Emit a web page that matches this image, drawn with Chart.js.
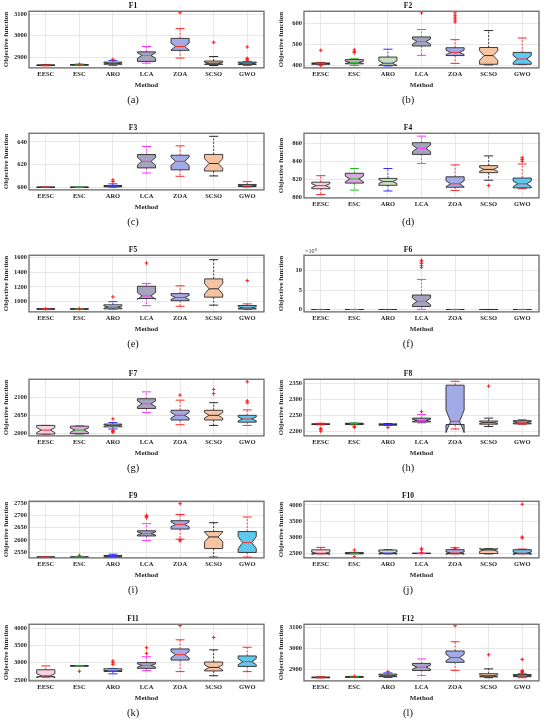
<!DOCTYPE html>
<html>
<head>
<meta charset="utf-8">
<script src="https://cdn.jsdelivr.net/npm/chart.js@4.4.1/dist/chart.umd.min.js"></script>
<style>
  html, body { margin: 0; padding: 0; background: #fff; }
  #wrap { position: relative; width: 550px; height: 722px; overflow: hidden; }
  .cell { position: absolute; width: 275px; height: 124px; }
</style>
</head>
<body>
<div id="wrap"></div>
<script>
const methods = ["EESC", "ESC", "ARO", "LCA", "ZOA", "SCSO", "GWO"];
const fillColors = ["#f3d2e4", "#d9a8da", "#c6e0b9", "#a4a4be", "#a2abe6", "#f6c4a2", "#5fc8ee"];
const lineColors = ["#ff2020", "#20c020", "#3030ff", "#ff30ff", "#ff2a2a", "#2a2a2a", "#ff2a2a"];

// each box: [lower whisker, q1, median, q3, upper whisker]
const f1Box = [[2860, 2861, 2862, 2864, 2866], [2862, 2863, 2864, 2866, 2868], [2862, 2867, 2871, 2877, 2885], [2872, 2880, 2908, 2925, 2950], [2896, 2932, 2950, 2988, 3034], [2861, 2866, 2872, 2882, 2903], [2861, 2866, 2870, 2877, 2880]];
const f1Out = [[], [2867], [2890], [], [3108], [2970], [2948, 2895, 2890, 2886]];
const f1Ticks = [2900, 3000, 3100];
const f1Range = [2850, 3115];

const f2Box = [[404, 406, 409, 412, 415], [400, 408, 415, 428, 432], [398, 401, 411, 440, 477], [448, 492, 513, 535, 570], [410, 447, 462, 484, 522], [403, 406, 447, 485, 565], [404, 406, 431, 462, 530]];
const f2Out = [[472, 400], [460, 466, 474], [], [648], [605, 615, 625, 635, 648], [], []];
const f2Ticks = [400, 500, 600];
const f2Range = [389, 656];

const f3Box = [[599.9, 600, 600, 600.1, 600.2], [599.9, 600, 600, 600.1, 600.2], [600.1, 600.4, 601, 601.5, 603], [612.6, 617.1, 622.9, 628.9, 636], [609.7, 615.4, 622.9, 628.3, 636.6], [610, 614.3, 621, 629, 645], [600.2, 600.6, 601.2, 602.5, 605]];
const f3Out = [[], [], [605, 606.5], [], [], [], []];
const f3Ticks = [600, 620, 640];
const f3Range = [597.7, 647.7];

const f4Box = [[803, 809.5, 813, 816.8, 824], [808, 815.8, 820.4, 826.7, 832], [807, 813.3, 817.5, 821, 832], [837.5, 847.7, 854.4, 860.7, 868], [807.5, 811.2, 815, 822.8, 836], [819, 827.4, 831, 835.2, 846], [809.5, 810.5, 815, 821.4, 837]];
const f4Out = [[], [], [], [], [], [813], [840, 842, 844]];
const f4Ticks = [800, 820, 840, 860];
const f4Range = [799.3, 871.2];

const f5Box = [[898, 899, 900, 902, 904], [898, 899, 900, 902, 904], [900, 902, 926, 957, 1000], [945, 1043, 1078, 1209, 1245], [937, 1013, 1057, 1109, 1215], [952, 1061, 1174, 1309, 1570], [895, 900, 917, 948, 970]];
const f5Out = [[905], [905], [1065], [1525], [], [], [1285]];
const f5Ticks = [1000, 1200, 1400, 1600];
const f5Range = [861, 1630];

// F6 values in units of 10^6
const f6Box = [[0, 0.002, 0.005, 0.01, 0.02], [0, 0.002, 0.005, 0.01, 0.02], [0, 0.002, 0.005, 0.01, 0.02], [0.05, 0.78, 2.1, 3.72, 7.7], [0, 0.002, 0.005, 0.01, 0.02], [0, 0.002, 0.005, 0.01, 0.02], [0, 0.002, 0.005, 0.01, 0.02]];
const f6Out = [[], [], [], [10.8, 11.3, 11.8, 12.2, 12.6], [], [], []];
const f6Ticks = [0, 5, 10];
const f6Range = [-0.6, 13.9];

const f7Box = [[1998, 1998, 2009, 2022, 2022], [1998, 1999, 2009, 2020, 2021], [2012, 2018, 2022, 2025.7, 2030], [2058, 2069, 2082, 2096, 2115], [2024, 2037, 2050, 2064, 2092], [2022, 2037, 2050, 2064, 2085], [2022, 2031, 2040, 2050, 2065]];
const f7Out = [[], [], [2040, 2008, 2005, 2003], [], [2106], [2122, 2110], [2143, 2090, 2085]];
const f7Ticks = [2000, 2050, 2100];
const f7Range = [1993, 2150];

const f8Box = [[2221, 2222, 2223, 2224, 2226], [2221, 2222, 2224, 2226, 2227], [2219, 2220, 2222, 2224, 2225], [2227, 2230, 2235, 2242, 2253], [2208, 2222, 2232, 2345, 2357], [2216, 2223, 2228, 2233, 2242], [2223, 2224, 2229, 2234, 2237]];
const f8Out = [[2210, 2206, 2201], [2213, 2216], [2213], [2262], [], [2342], []];
const f8Ticks = [2200, 2250, 2300, 2350];
const f8Range = [2186.5, 2363.5];

const f9Box = [[2529, 2529.5, 2530, 2530.5, 2531], [2529, 2529.5, 2530, 2530.5, 2531], [2529, 2530, 2533, 2537, 2542], [2597, 2616, 2626, 2637, 2666], [2603, 2644, 2663, 2678, 2703], [2530, 2565, 2612, 2634, 2670], [2530, 2549, 2589, 2634, 2693]];
const f9Out = [[], [2537], [], [2700, 2695, 2690], [2747, 2600, 2596], [], []];
const f9Ticks = [2550, 2600, 2650, 2700, 2750];
const f9Range = [2527, 2757];

const f10Box = [[2490, 2495, 2510, 2615, 2690], [2490, 2492, 2505, 2530, 2540], [2490, 2495, 2515, 2610, 2620], [2495, 2500, 2505, 2510, 2515], [2490, 2495, 2515, 2620, 2680], [2490, 2500, 2610, 2640, 2650], [2490, 2495, 2510, 2620, 2640]];
const f10Out = [[], [2610, 2400], [], [2650, 2610, 2530], [2660], [], [4020, 3010, 2980]];
const f10Ticks = [2500, 3000, 3500, 4000];
const f10Range = [2367, 4112];

const f11Box = [[2580, 2592, 2620, 2794, 2905], [2905, 2905, 2907, 2908, 2910], [2675, 2748, 2760, 2822, 2830], [2770, 2834, 2917, 3000, 3170], [2740, 3074, 3230, 3396, 3660], [2620, 2760, 2862, 3018, 3370], [2740, 2890, 3027, 3193, 3445]];
const f11Out = [[], [2750], [3050, 3000, 2950], [3430, 3270], [4070], [3730], []];
const f11Ticks = [2500, 3000, 3500, 4000];
const f11Range = [2472, 4110];

const f12Box = [[2860, 2861, 2862, 2864, 2866], [2862, 2863, 2865, 2866, 2868], [2862, 2866, 2871, 2878, 2884], [2872, 2895, 2911, 2929, 2950], [2896, 2934, 2957, 2988, 3032], [2861, 2865, 2870, 2880, 2903], [2861, 2866, 2870, 2876, 2880]];
const f12Out = [[], [2868], [2890], [], [3108], [2970], [2948, 2895, 2890, 2886]];
const f12Ticks = [2900, 3000, 3100];
const f12Range = [2846, 3115];

const panels = [
    { title: "F1", cap: "(a)", box: f1Box, out: f1Out, ticks: f1Ticks, range: f1Range, method: true },
    { title: "F2", cap: "(b)", box: f2Box, out: f2Out, ticks: f2Ticks, range: f2Range, method: true },
    { title: "F3", cap: "(c)", box: f3Box, out: f3Out, ticks: f3Ticks, range: f3Range, method: true },
    { title: "F4", cap: "(d)", box: f4Box, out: f4Out, ticks: f4Ticks, range: f4Range, method: false },
    { title: "F5", cap: "(e)", box: f5Box, out: f5Out, ticks: f5Ticks, range: f5Range, method: true },
    { title: "F6", cap: "(f)", box: f6Box, out: f6Out, ticks: f6Ticks, range: f6Range, method: true, exp: "6" },
    { title: "F7", cap: "(g)", box: f7Box, out: f7Out, ticks: f7Ticks, range: f7Range, method: true },
    { title: "F8", cap: "(h)", box: f8Box, out: f8Out, ticks: f8Ticks, range: f8Range, method: true },
    { title: "F9", cap: "(i)", box: f9Box, out: f9Out, ticks: f9Ticks, range: f9Range, method: true },
    { title: "F10", cap: "(j)", box: f10Box, out: f10Out, ticks: f10Ticks, range: f10Range, method: true },
    { title: "F11", cap: "(k)", box: f11Box, out: f11Out, ticks: f11Ticks, range: f11Range, method: true },
    { title: "F12", cap: "(l)", box: f12Box, out: f12Out, ticks: f12Ticks, range: f12Range, method: true }
];

const rowTops = [0, 122, 244, 368, 490, 613];
const serif = "'Liberation Serif', 'Times New Roman', serif";

// draws notched boxes (MATLAB style) from the panel data through the chart scales
const boxPlugin = {
    id: "boxplot",
    beforeDatasetsDraw(chart, args, opts) {
        const ctx = chart.ctx;
        const xs = chart.scales.x;
        const ys = chart.scales.y;
        const step = xs.getPixelForValue(1) - xs.getPixelForValue(0);
        const half = step * 0.27;
        const cap = half * 0.5;
        ctx.save();
        ctx.beginPath();
        ctx.rect(chart.chartArea.left, chart.chartArea.top, chart.chartArea.width, chart.chartArea.height);
        ctx.clip();
        opts.boxes.forEach((b, i) => {
            const x = xs.getPixelForValue(i);
            const [lo, q1, med, q3, hi] = b.map(v => ys.getPixelForValue(v));
            const nh = 1.57 * (b[3] - b[1]) / Math.sqrt(30);
            const nlo = ys.getPixelForValue(b[2] - nh);
            const nhi = ys.getPixelForValue(b[2] + nh);
            const col = lineColors[i];

            // whiskers
            ctx.strokeStyle = col;
            ctx.lineWidth = 0.9;
            ctx.setLineDash([2, 1.5]);
            ctx.beginPath();
            ctx.moveTo(x, q3); ctx.lineTo(x, hi);
            ctx.moveTo(x, q1); ctx.lineTo(x, lo);
            ctx.stroke();
            ctx.setLineDash([]);
            ctx.lineWidth = 1;
            ctx.beginPath();
            ctx.moveTo(x - cap, hi); ctx.lineTo(x + cap, hi);
            ctx.moveTo(x - cap, lo); ctx.lineTo(x + cap, lo);
            ctx.stroke();

            // notched box
            ctx.beginPath();
            ctx.moveTo(x - half, q1);
            ctx.lineTo(x - half, nlo);
            ctx.lineTo(x - half / 2, med);
            ctx.lineTo(x - half, nhi);
            ctx.lineTo(x - half, q3);
            ctx.lineTo(x + half, q3);
            ctx.lineTo(x + half, nhi);
            ctx.lineTo(x + half / 2, med);
            ctx.lineTo(x + half, nlo);
            ctx.lineTo(x + half, q1);
            ctx.closePath();
            ctx.fillStyle = fillColors[i];
            ctx.fill();
            ctx.strokeStyle = "#2b2b2b";
            ctx.lineWidth = 0.9;
            ctx.stroke();

            // median
            ctx.strokeStyle = col;
            ctx.lineWidth = 1;
            ctx.beginPath();
            ctx.moveTo(x - half / 2, med); ctx.lineTo(x + half / 2, med);
            ctx.stroke();
        });
        ctx.restore();
    },
    afterDraw(chart, args, opts) {
        const ctx = chart.ctx;
        const a = chart.chartArea;
        ctx.save();
        ctx.strokeStyle = "#6a6a6a";
        ctx.lineWidth = 1.3;
        ctx.strokeRect(a.left, a.top, a.width, a.height);
        if (opts.exp) {
            ctx.fillStyle = "#333";
            ctx.textBaseline = "alphabetic";
            ctx.font = "6px " + serif;
            ctx.fillText("\u00d710", a.left + 1, a.top - 2);
            const w = ctx.measureText("\u00d710").width;
            ctx.font = "4.5px " + serif;
            ctx.fillText(opts.exp, a.left + 1 + w + 0.5, a.top - 4.5);
        }
        ctx.restore();
    }
};

const wrap = document.getElementById("wrap");

panels.forEach((p, k) => {
    const cell = document.createElement("div");
    cell.className = "cell";
    cell.style.left = (k % 2) * 275 + "px";
    cell.style.top = rowTops[Math.floor(k / 2)] + "px";
    const canvas = document.createElement("canvas");
    canvas.width = 275;
    canvas.height = 124;
    cell.appendChild(canvas);
    wrap.appendChild(cell);

    const points = [];
    p.out.forEach((list, i) => list.forEach(v => points.push({ x: methods[i], y: v })));

    const tickFont = { family: serif, size: 6.5, weight: "bold", lineHeight: 1.15 };
    const labelFont = { family: serif, size: 7, weight: "bold", lineHeight: 1.15 };

    new Chart(canvas.getContext("2d"), {
        type: "line",
        data: {
            labels: methods,
            datasets: [{
                data: points,
                showLine: false,
                pointStyle: "cross",
                pointRadius: 1.8,
                pointBorderColor: "#ff1a1a",
                pointBorderWidth: 1
            }]
        },
        options: {
            responsive: false,
            animation: false,
            events: [],
            layout: { padding: { left: 2, right: 11, top: 0, bottom: 17 } },
            plugins: {
                legend: { display: false },
                tooltip: { enabled: false },
                title: {
                    display: true,
                    text: p.title,
                    color: "#111",
                    font: { family: serif, size: 7.5, weight: "bold", lineHeight: 1.1 },
                    padding: { top: 2, bottom: 1 }
                },
                subtitle: {
                    display: true,
                    position: "bottom",
                    text: p.cap,
                    color: "#111",
                    font: { family: serif, size: 10.5, lineHeight: 1.2 },
                    padding: { top: 5, bottom: 0 }
                },
                boxplot: { boxes: p.box, exp: p.exp || null }
            },
            scales: {
                x: {
                    type: "category",
                    offset: true,
                    grid: { color: "#e2e2e2", offset: false, drawTicks: false, lineWidth: 0.8 },
                    border: { display: false },
                    ticks: { font: tickFont, color: "#262626", padding: 3, maxRotation: 0, autoSkip: false },
                    title: {
                        display: p.method,
                        text: "Method",
                        color: "#262626",
                        font: labelFont,
                        padding: 0
                    }
                },
                y: {
                    min: p.range[0],
                    max: p.range[1],
                    afterBuildTicks: s => { s.ticks = p.ticks.map(v => ({ value: v })); },
                    afterFit: s => { s.width = 27; },
                    grid: { color: "#e2e2e2", drawTicks: false, lineWidth: 0.8 },
                    border: { display: false },
                    ticks: { font: tickFont, color: "#262626", padding: 2, callback: v => String(v) },
                    title: {
                        display: true,
                        text: "Objective function",
                        color: "#262626",
                        font: labelFont,
                        padding: 0
                    }
                }
            }
        },
        plugins: [boxPlugin]
    });
});
</script>
</body>
</html>
